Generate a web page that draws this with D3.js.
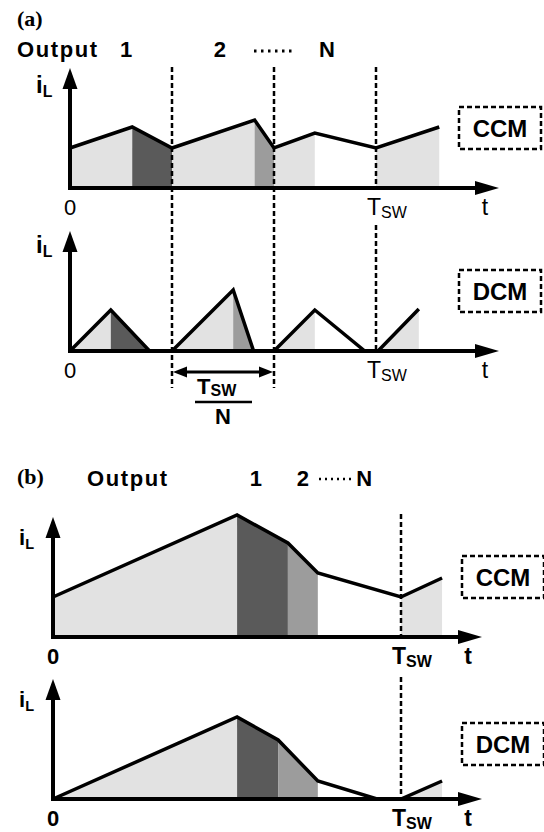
<!DOCTYPE html>
<meta charset="utf-8">
<style>
body { margin: 0; background: #fff; }
text { font-family: "Liberation Sans", Arial, sans-serif; fill: #000; }
text.serif { font-family: "Liberation Serif", "Times New Roman", serif; }
</style>
<body>
<svg width="544" height="832"></svg>
<script src="https://cdn.jsdelivr.net/npm/d3@7"></script>
<script>
// (a): time in units of Tsw/N, inductor current in arbitrary units
var aCcmT = [0, 0.61, 1, 1.81, 2, 2.40, 3, 3.62];
var aCcmI = [40, 61, 40, 68, 40, 55, 40, 61];
var aDcmT = [0, 0.40, 0.78, 1, 1.60, 1.80, 2, 2.40, 2.89, 3.02, 3.42];
var aDcmI = [0, 41, 0, 0, 61, 0, 0, 41, 0, 0, 42];
// shaded intervals: [from, to, phase]
var aCcmShade = [[0, 0.61, "rise"], [0.61, 1, "out1"], [1, 1.81, "rise"], [1.81, 2, "out2"], [2, 2.40, "rise"], [3, 3.62, "rise"]];
var aDcmShade = [[0, 0.40, "rise"], [0.40, 0.78, "out1"], [1, 1.60, "rise"], [1.60, 1.80, "out2"], [2, 2.40, "rise"], [3.02, 3.42, "rise"]];
var aOutputs = ["1", "2", "N"];
var aOutputAt = [0.55, 1.47, 2.52];

// (b): time in units of Tsw
var bCcmT = [0, 0.529, 0.675, 0.761, 1, 1.118];
var bCcmI = [40, 122, 94, 64, 40, 59];
var bDcmT = [0, 0.529, 0.647, 0.761, 0.931, 1, 1.118];
var bDcmI = [0, 82, 59, 18, 0, 0, 18];
var bCcmShade = [[0, 0.529, "rise"], [0.529, 0.675, "out1"], [0.675, 0.761, "out2"], [1, 1.118, "rise"]];
var bDcmShade = [[0, 0.529, "rise"], [0.529, 0.647, "out1"], [0.647, 0.761, "out2"], [1, 1.118, "rise"]];
var bOutputAt = [0.583, 0.718, 0.894];

var fills = {rise: "#e2e2e2", out1: "#5a5a5a", out2: "#9c9c9c"};
var svg = d3.select("svg");

var xa = d3.scaleLinear().domain([0, 3]).range([70, 376]);
var xb = d3.scaleLinear().domain([0, 1]).range([53, 401]);

function valueAt(ts, is, t) {
  for (var k = 1; k < ts.length; k++) {
    if (t <= ts[k]) {
      var f = (t - ts[k - 1]) / (ts[k] - ts[k - 1]);
      return is[k - 1] + f * (is[k] - is[k - 1]);
    }
  }
  return is[is.length - 1];
}

function arrow(x, y, dir, len, wid) {
  // tip at x,y
  if (dir == "up") return "M" + x + "," + y + "L" + (x - wid / 2) + "," + (y + len) + "L" + (x + wid / 2) + "," + (y + len) + "Z";
  if (dir == "left") return "M" + x + "," + y + "L" + (x + len) + "," + (y - wid / 2) + "L" + (x + len) + "," + (y + wid / 2) + "Z";
  return "M" + x + "," + y + "L" + (x - len) + "," + (y - wid / 2) + "L" + (x - len) + "," + (y + wid / 2) + "Z";
}

function sub(sel, x, y, main, low, size, lowSize, weight, dy) {
  var t = sel.append("text").attr("x", x).attr("y", y)
    .attr("font-size", size).attr("font-weight", weight);
  t.append("tspan").text(main);
  t.append("tspan").attr("font-size", lowSize).attr("dy", dy).text(low);
  return t;
}

function panel(o) {
  var x = o.x;
  var y = d3.scaleLinear().domain([0, 100]).range([o.axisY, o.axisY - 100]);
  var g = svg.append("g");
  var pts = o.t.map(function(t, k) { return [t, o.i[k]]; });
  var area = d3.area().x(function(d) { return x(d[0]); }).y0(y(0)).y1(function(d) { return y(d[1]); });
  o.shade.forEach(function(s) {
    var seg = [[s[0], valueAt(o.t, o.i, s[0])]]
      .concat(pts.filter(function(p) { return p[0] > s[0] && p[0] < s[1]; }))
      .concat([[s[1], valueAt(o.t, o.i, s[1])]]);
    g.append("path").attr("d", area(seg)).attr("fill", fills[s[2]]);
  });
  g.append("path")
    .attr("d", d3.line().x(function(d) { return x(d[0]); }).y(function(d) { return y(d[1]); })(pts))
    .attr("fill", "none").attr("stroke", "#000").attr("stroke-width", 3.5);

  // dashed markers
  (o.dashes || []).forEach(function(d) {
    g.append("line").attr("x1", x(d[0])).attr("x2", x(d[0])).attr("y1", d[1]).attr("y2", d[2])
      .attr("stroke", "#000").attr("stroke-width", 2.5).attr("stroke-dasharray", "5,3");
  });

  // axes
  var x0 = x(0);
  g.append("line").attr("x1", x0).attr("x2", x0).attr("y1", o.axisY + 2).attr("y2", o.tipY + 15)
    .attr("stroke", "#000").attr("stroke-width", 4);
  g.append("path").attr("d", arrow(x0, o.tipY, "up", 21, 15));
  g.append("line").attr("x1", x0 - 2).attr("x2", o.endX - 15).attr("y1", o.axisY).attr("y2", o.axisY)
    .attr("stroke", "#000").attr("stroke-width", 4);
  g.append("path").attr("d", arrow(o.endX, o.axisY, "right", 24, 14));

  // labels
  var w = o.bold ? "bold" : "normal";
  sub(g, x0 - 34, o.tipY + o.iDy, "i", "L", o.iSize, o.iSize * 0.66, "bold", 4);
  g.append("text").attr("x", x0).attr("y", o.axisY + o.lblDy).attr("text-anchor", "middle")
    .attr("font-size", 22).attr("font-weight", w).text("0");
  sub(g, x(o.tsw) - 9, o.axisY + o.lblDy, "T", "SW", 23, 16, w, 3);
  g.append("text").attr("x", o.endX - 14).attr("y", o.axisY + o.lblDy).attr("text-anchor", "middle")
    .attr("font-size", 23).attr("font-weight", w).text("t");

  // mode box
  g.append("rect").attr("x", o.box[0]).attr("y", o.box[1]).attr("width", 82).attr("height", 42)
    .attr("fill", "none").attr("stroke", "#000").attr("stroke-width", 2.5).attr("stroke-dasharray", "5,3");
  g.append("text").attr("x", o.box[0] + 41).attr("y", o.box[1] + 30).attr("text-anchor", "middle")
    .attr("font-size", 24).attr("font-weight", "bold").text(o.mode);
}

// ---- (a)
svg.append("text").attr("class", "serif").attr("x", 17).attr("y", 26)
  .attr("font-size", 22).attr("font-weight", "bold").text("(a)");
svg.append("text").attr("x", 17).attr("y", 57).attr("font-size", 22).attr("font-weight", "bold")
  .attr("letter-spacing", 1.6).text("Output");
aOutputs.forEach(function(s, k) {
  svg.append("text").attr("x", xa(aOutputAt[k])).attr("y", 57).attr("text-anchor", "middle")
    .attr("font-size", 22).attr("font-weight", "bold").text(s);
});
svg.append("line").attr("x1", 254).attr("x2", 292).attr("y1", 51).attr("y2", 51)
  .attr("stroke", "#000").attr("stroke-width", 3).attr("stroke-dasharray", "2.5,4.5");

panel({x: xa, t: aCcmT, i: aCcmI, shade: aCcmShade, axisY: 188, tipY: 68, endX: 499, tsw: 3,
  iDy: 25, iSize: 24, lblDy: 27, bold: false, box: [459, 107], mode: "CCM",
  dashes: [[3, 67, 188]]});
panel({x: xa, t: aDcmT, i: aDcmI, shade: aDcmShade, axisY: 351, tipY: 231, endX: 499, tsw: 3,
  iDy: 22, iSize: 24, lblDy: 27, bold: false, box: [459, 270], mode: "DCM",
  dashes: [[3, 225, 351]]});

// long dashed lines across both (a) panels
[1, 2].forEach(function(t) {
  svg.append("line").attr("x1", xa(t)).attr("x2", xa(t)).attr("y1", 67).attr("y2", 388)
    .attr("stroke", "#000").attr("stroke-width", 2.5).attr("stroke-dasharray", "5,3");
});
// Tsw/N span
svg.append("line").attr("x1", xa(1) + 8).attr("x2", xa(2) - 8).attr("y1", 372).attr("y2", 372)
  .attr("stroke", "#000").attr("stroke-width", 3);
svg.append("path").attr("d", arrow(xa(1) + 1, 372, "left", 14, 11));
svg.append("path").attr("d", arrow(xa(2) - 1, 372, "right", 14, 11));
sub(svg, 197, 394, "T", "SW", 22, 16, "bold", 2);
svg.append("line").attr("x1", 195).attr("x2", 252).attr("y1", 402).attr("y2", 402)
  .attr("stroke", "#000").attr("stroke-width", 2.5);
svg.append("text").attr("x", 223).attr("y", 424).attr("text-anchor", "middle")
  .attr("font-size", 22).attr("font-weight", "bold").text("N");

// ---- (b)
svg.append("text").attr("class", "serif").attr("x", 17).attr("y", 484)
  .attr("font-size", 22).attr("font-weight", "bold").text("(b)");
svg.append("text").attr("x", 87).attr("y", 486).attr("font-size", 22).attr("font-weight", "bold")
  .attr("letter-spacing", 1.6).text("Output");
aOutputs.forEach(function(s, k) {
  svg.append("text").attr("x", xb(bOutputAt[k])).attr("y", 486).attr("text-anchor", "middle")
    .attr("font-size", 22).attr("font-weight", "bold").text(s);
});
svg.append("line").attr("x1", 319).attr("x2", 351).attr("y1", 479).attr("y2", 479)
  .attr("stroke", "#000").attr("stroke-width", 2.5).attr("stroke-dasharray", "2,4");

panel({x: xb, t: bCcmT, i: bCcmI, shade: bCcmShade, axisY: 637, tipY: 517, endX: 482, tsw: 1,
  iDy: 28, iSize: 22, lblDy: 27, bold: true, box: [462, 556], mode: "CCM",
  dashes: [[1, 514, 637]]});
panel({x: xb, t: bDcmT, i: bDcmI, shade: bDcmShade, axisY: 799, tipY: 679, endX: 482, tsw: 1,
  iDy: 28, iSize: 22, lblDy: 27, bold: true, box: [462, 723], mode: "DCM",
  dashes: [[1, 677, 800]]});
</script>
</body>
